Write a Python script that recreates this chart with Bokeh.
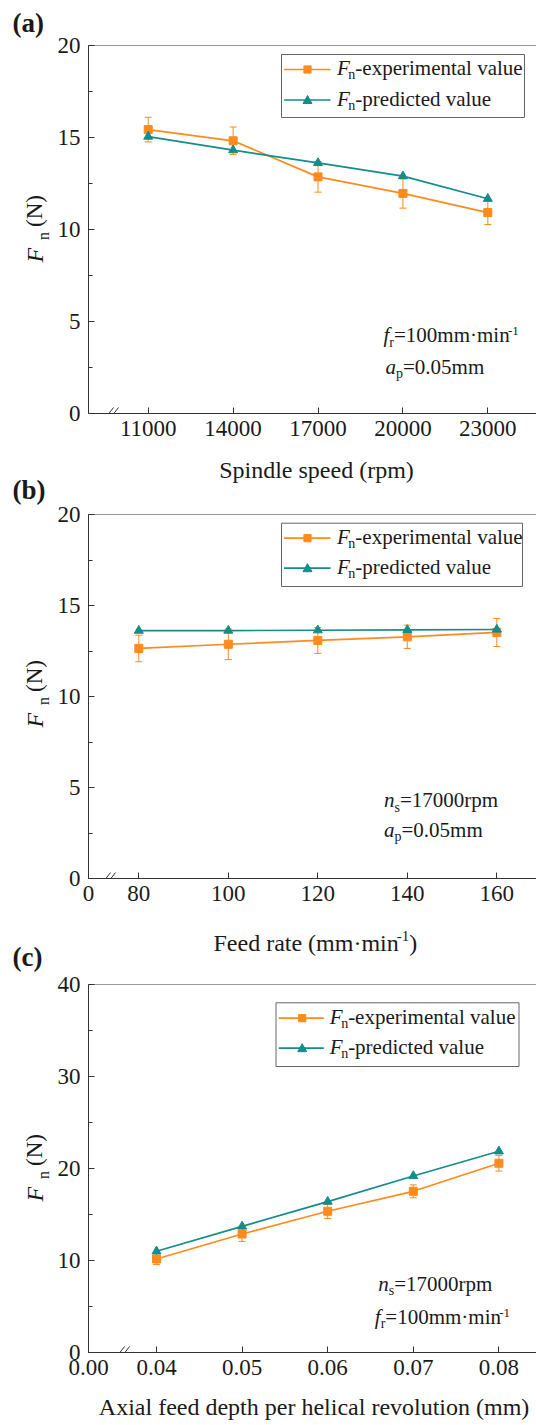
import math
from bokeh.plotting import figure
from bokeh.models import (ColumnDataSource, Whisker, TeeHead, Label, Arrow, BoxAnnotation,
                          PolyAnnotation, Span, FixedTicker, SingleIntervalTicker, Range1d)
from bokeh.layouts import column, row
from bokeh.embed import file_html
from bokeh.resources import INLINE

# ---------------- data ----------------
spindle_speed = [11000, 14000, 17000, 20000, 23000]
a_exp = [15.43, 14.82, 12.86, 11.96, 10.92]
a_err = [0.67, 0.75, 0.83, 0.80, 0.65]
a_pred = [15.05, 14.31, 13.62, 12.90, 11.67]
a_tick_labels = ["11000", "14000", "17000", "20000", "23000"]

feed_rate = [80, 100, 120, 140, 160]
b_exp = [12.64, 12.87, 13.08, 13.28, 13.52]
b_err = [0.73, 0.84, 0.71, 0.64, 0.77]
b_pred = [13.62, 13.62, 13.64, 13.66, 13.68]
b_tick_labels = ["0", "80", "100", "120", "140", "160"]

axial_depth = [0.04, 0.05, 0.06, 0.07, 0.08]
c_exp = [10.16, 12.88, 15.35, 17.52, 20.57]
c_err = [0.60, 0.80, 0.77, 0.70, 0.85]
c_pred = [11.00, 13.71, 16.40, 19.19, 21.87]
c_tick_labels = ["0.00", "0.04", "0.05", "0.06", "0.07", "0.08"]

legend_labels = ["-experimental value", "-predicted value"]

# ---------------- styling ----------------
FONT = "Liberation Serif"
ORANGE = "#FF8A1E"
TEAL = "#148C8A"
AXIS = "#333333"
TXT = "#1a1a1a"
PAGE_H = 1425
LEFT_W = 54
FL = 88            # common frame left (page px); the column aligns frames
BL = FL - LEFT_W   # left border inside the right column
BASE_FIX = 0.33    # baseline correction (em) for the svg text renderer

W_REG = {' ': 250, '(': 333, ')': 333, '-': 333, '.': 250, '=': 564, '\u00b7': 250,
         'A': 722, 'F': 556, 'N': 722, 'S': 556, 'a': 444, 'c': 444, 'd': 500, 'e': 444,
         'f': 333, 'h': 500, 'i': 278, 'l': 278, 'm': 778, 'n': 500, 'o': 500, 'p': 500,
         'r': 333, 's': 389, 't': 278, 'u': 500, 'v': 500, 'x': 500}
W_IT = {'F': 611, 'a': 500, 'f': 278, 'n': 500}


def tw(text, size, style):
    tab = W_IT if style == "italic" else W_REG
    return sum(tab.get(ch, W_REG.get(ch, 500)) for ch in text) * size / 1000.0


def blank_fig(width, height, bl=0):
    p = figure(width=width, height=height, x_axis_type=None, y_axis_type=None,
               output_backend="svg", toolbar_location=None, tools="", title=None,
               min_border=0, min_border_left=bl, x_range=Range1d(0, 1), y_range=Range1d(0, 1))
    p.outline_line_color = None
    p.background_fill_color = "white"
    p.border_fill_color = "white"
    p.xgrid.visible = False
    p.ygrid.visible = False
    return p


def make_panel(x, exp, err, pred, x_range, y_end, y_int, ticks, tick_labels,
               top_off, height, bt, bb):
    p = figure(width=536 - LEFT_W, height=height, x_range=Range1d(*x_range),
               y_range=Range1d(0, y_end), output_backend="svg", toolbar_location=None,
               tools="", title=None,
               min_border_left=BL, min_border_right=0, min_border_top=bt, min_border_bottom=bb)
    p.outline_line_color = None
    p.background_fill_color = "white"
    p.border_fill_color = "white"
    p.xgrid.visible = False
    p.ygrid.visible = False
    FB = top_off + height - bb

    def conv(X, Y):
        return X - FL, FB - Y

    for ax in (p.xaxis[0], p.yaxis[0]):
        ax.axis_line_color = AXIS
        ax.major_tick_line_color = AXIS
        ax.minor_tick_line_color = AXIS
        ax.major_tick_in = 6
        ax.major_tick_out = 0
        ax.minor_tick_in = 4
        ax.minor_tick_out = 0
        ax.major_label_text_font = FONT
        ax.major_label_text_font_size = "23px"
        ax.major_label_text_color = TXT
    p.yaxis.ticker = SingleIntervalTicker(interval=y_int, num_minor_ticks=2)
    p.yaxis.major_label_standoff = 8
    p.xaxis.ticker = FixedTicker(ticks=ticks)
    p.xaxis.major_label_overrides = dict(zip(ticks, tick_labels))
    p.xaxis.major_label_standoff = 7
    p.xaxis.minor_tick_line_color = None

    p.add_layout(Span(location=y_end, dimension="width", line_color=AXIS, line_width=1))

    src = ColumnDataSource(dict(x=x, lower=[e - d for e, d in zip(exp, err)],
                                upper=[e + d for e, d in zip(exp, err)]))
    p.add_layout(Whisker(source=src, base="x", lower="lower", upper="upper",
                         line_color=ORANGE, line_width=1,
                         upper_head=TeeHead(size=7, line_color=ORANGE, line_width=1),
                         lower_head=TeeHead(size=7, line_color=ORANGE, line_width=1)))
    p.line(x, exp, line_color=ORANGE, line_width=1.7)
    p.scatter(x, exp, marker="square", size=8, fill_color=ORANGE, line_color=ORANGE)
    p.line(x, pred, line_color=TEAL, line_width=1.7)
    p.scatter(x, pred, marker="triangle", size=9, fill_color=TEAL, line_color=TEAL)
    return p, conv, FB


def strip_conv(top_off, height):
    return lambda X, Y: (X - FL, top_off + height - Y)


def seg(p, conv, X1, Y1, X2, Y2, color, width):
    x1, y1 = conv(X1, Y1)
    x2, y2 = conv(X2, Y2)
    p.add_layout(Arrow(start=None, end=None, x_start=x1, y_start=y1, x_end=x2, y_end=y2,
                       start_units="screen", end_units="screen",
                       line_color=color, line_width=width))


def lab(p, sx, sy, text, size, style="normal", align="left", angle=0.0):
    if angle == 0.0:
        sy += BASE_FIX * size
    else:
        sx -= BASE_FIX * size
    p.add_layout(Label(x=sx, y=sy, x_units="screen", y_units="screen", text=text,
                       text_font=FONT, text_font_size=f"{size}px", text_font_style=style,
                       text_align=align, text_baseline="alphabetic", text_color=TXT,
                       angle=angle))


def rich(p, conv, X, Y, pieces):
    x = X
    for text, size, style, dy, kern in pieces:
        sx, sy = conv(x + kern, Y + dy)
        lab(p, sx, sy, text, size, style)
        x += kern + tw(text, size, style)


def axis_break(p, conv, X0, FB):
    for dx in (0, 5):
        seg(p, conv, X0 + dx, FB + 0.5, X0 + dx + 5, FB - 6, AXIS, 1)


def legend(p, conv, box, rows_y, line_x, marker_x, text_x):
    L, R, T, B = box
    l, t = conv(L, T)
    r, b = conv(R, B)
    p.add_layout(BoxAnnotation(left=l, right=r, top=t, bottom=b,
                               left_units="screen", right_units="screen",
                               top_units="screen", bottom_units="screen",
                               fill_color="white", fill_alpha=1.0,
                               line_color="#666666", line_width=1, line_alpha=1.0))
    for i, (Y, color) in enumerate(zip(rows_y, (ORANGE, TEAL))):
        seg(p, conv, line_x[0], Y, line_x[1], Y, color, 1.7)
        if i == 0:
            l2, t2 = conv(marker_x - 3.6, Y - 3.6)
            r2, b2 = conv(marker_x + 3.6, Y + 3.6)
            p.add_layout(BoxAnnotation(left=l2, right=r2, top=t2, bottom=b2,
                                       left_units="screen", right_units="screen",
                                       top_units="screen", bottom_units="screen",
                                       fill_color=ORANGE, fill_alpha=1.0, line_color=ORANGE,
                                       line_alpha=1.0))
        else:
            pts = [conv(marker_x - 4.5, Y + 3.5), conv(marker_x + 4.5, Y + 3.5),
                   conv(marker_x, Y - 4.5)]
            p.add_layout(PolyAnnotation(xs=[q[0] for q in pts], ys=[q[1] for q in pts],
                                        xs_units="screen", ys_units="screen",
                                        fill_color=TEAL, fill_alpha=1.0, line_color=TEAL,
                                        line_alpha=1.0))
        rich(p, conv, text_x, Y + 5.5, [("F", 21, "italic", 0, 0),
                                       ("n", 14, "normal", 4.5, -1.5),
                                       (legend_labels[i], 21, "normal", 0, 0)])


# ---------------- left strip (panel letters + y titles) ----------------
left = blank_fig(LEFT_W, PAGE_H)
conv_left = lambda X, Y: (X, PAGE_H - Y)


def ylabel(FB):
    sx, sy = conv_left(FL - 46, FB - 151)
    lab(left, sx, sy, "F", 24, "italic", angle=math.pi / 2)
    sx, sy = conv_left(FL - 40, FB - 173.5)
    lab(left, sx, sy, "n", 16, "normal", angle=math.pi / 2)
    sx, sy = conv_left(FL - 46, FB - 186.5)
    lab(left, sx, sy, "(N)", 23, "normal", angle=math.pi / 2)


for txt, Y in (("(a)", 31.5), ("(b)", 498), ("(c)", 965)):
    sx, sy = conv_left(12, Y)
    lab(left, sx, sy, txt, 27, "bold")

# ---------------- panel (a) ----------------
A_TOP, A_H = 0, 451
pa, ca, fba = make_panel(spindle_speed, a_exp, a_err, a_pred, (8890, 24720), 20, 5,
                         spindle_speed, a_tick_labels, top_off=A_TOP, height=A_H,
                         bt=45, bb=38)
ylabel(fba)
axis_break(pa, ca, 108, fba)
legend(pa, ca, (281, 524, 54, 117), (69, 99.5), (283.5, 330), 307, 336.5)
rich(pa, ca, 383, 341.7, [("f", 21, "italic", 0, 0), ("r", 14, "normal", 4.5, 0),
                          ("=100mm\u00b7min", 21, "normal", 0, 0), ("-1", 13, "normal", -7, 0)])
rich(pa, ca, 385, 373.3, [("a", 21, "italic", 0, 0), ("p", 14, "normal", 4.5, 0),
                          ("=0.05mm", 21, "normal", 0, 0)])

# strip 1: x title of (a)
S1_TOP, S1_H = 451, 51
s1 = blank_fig(536 - LEFT_W, S1_H, BL)
c1 = strip_conv(S1_TOP, S1_H)
sx, sy = c1(316, 477)
lab(s1, sx, sy, "Spindle speed (rpm)", 24, "normal", align="center")

# ---------------- panel (b) ----------------
B_TOP, B_H = 502, 414
pb, cb, fbb = make_panel(feed_rate, b_exp, b_err, b_pred, (68.76, 168.87), 20, 5,
                         [68.76] + feed_rate, b_tick_labels, top_off=B_TOP, height=B_H,
                         bt=12, bb=38)
ylabel(fbb)
axis_break(pb, cb, 105, fbb)
legend(pb, cb, (281, 522, 522.7, 586), (537.7, 567.7), (283.5, 330), 307, 336.5)
rich(pb, cb, 383.5, 806.7, [("n", 21, "italic", 0, 0), ("s", 14, "normal", 4.5, 0),
                            ("=17000rpm", 21, "normal", 0, 0)])
rich(pb, cb, 383.5, 836, [("a", 21, "italic", 0, 0), ("p", 14, "normal", 4.5, 0),
                          ("=0.05mm", 21, "normal", 0, 0)])

# strip 2: x title of (b)
S2_TOP, S2_H = 916, 56
s2 = blank_fig(536 - LEFT_W, S2_H, BL)
c2 = strip_conv(S2_TOP, S2_H)
rich(s2, c2, 213, 950, [("Feed rate (mm\u00b7min", 24, "normal", 0, 0),
                        ("-1", 15, "normal", -10, 0), (")", 24, "normal", 0, 0)])

# ---------------- panel (c) ----------------
C_TOP, C_H = 972, 418
pc, cc, fbc = make_panel(axial_depth, c_exp, c_err, c_pred, (0.032056, 0.084392), 40, 10,
                         [0.032056] + axial_depth, c_tick_labels, top_off=C_TOP, height=C_H,
                         bt=12, bb=38)
ylabel(fbc)
axis_break(pc, cc, 119, fbc)
legend(pc, cc, (275.5, 518.5, 1002.3, 1066), (1017.7, 1047.7), (278.3, 323.3), 301.7, 329.3)
rich(pc, cc, 377.7, 1290, [("n", 21, "italic", 0, 0), ("s", 14, "normal", 4.5, 0),
                           ("=17000rpm", 21, "normal", 0, 0)])
rich(pc, cc, 374.3, 1323.3, [("f", 21, "italic", 0, 0), ("r", 14, "normal", 4.5, 0),
                             ("=100mm\u00b7min", 21, "normal", 0, 0), ("-1", 13, "normal", -7, 0)])

# strip 3: x title of (c)
S3_TOP, S3_H = 1390, 35
s3 = blank_fig(536 - LEFT_W, S3_H, BL)
c3 = strip_conv(S3_TOP, S3_H)
sx, sy = c3(313.6, 1414)
lab(s3, sx, sy, "Axial feed depth per helical revolution (mm)", 24, "normal", align="center")

right = column(pa, s1, pb, s2, pc, s3, spacing=0)
layout = row(left, right, spacing=0)
open("out.html", "w").write(file_html(layout, INLINE))
